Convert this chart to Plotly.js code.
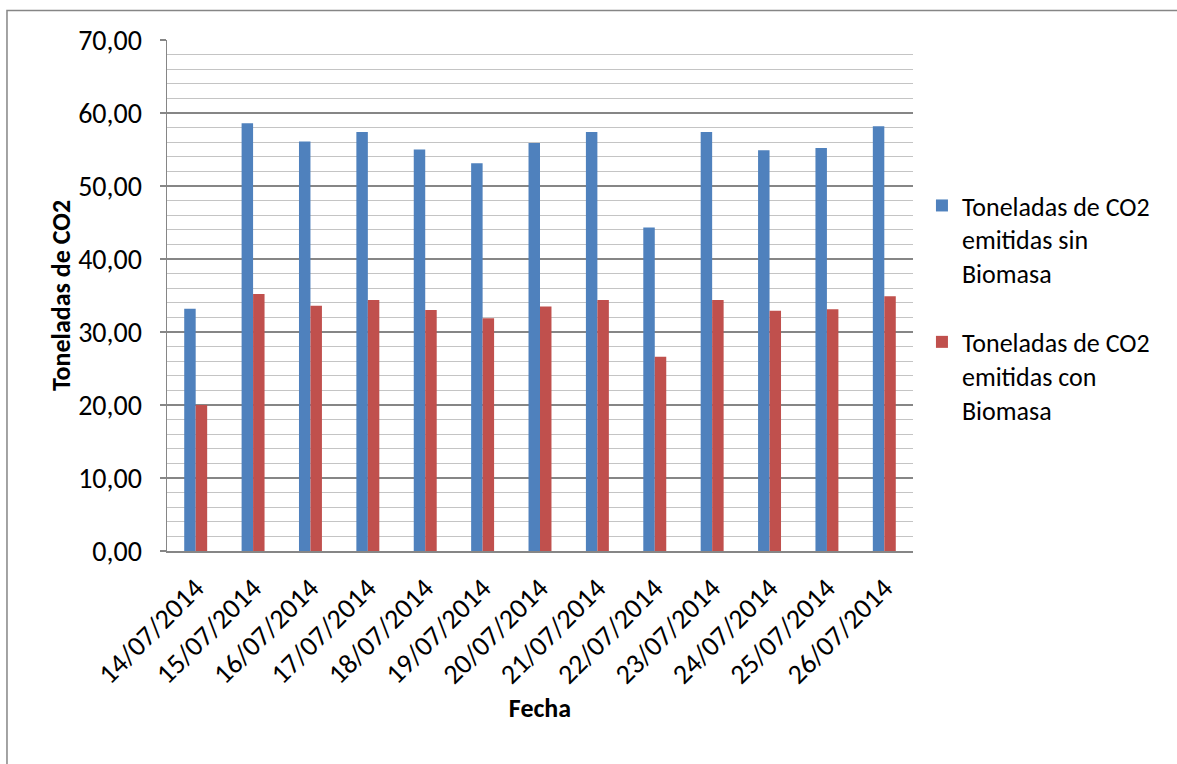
<!DOCTYPE html>
<html>
<head>
<meta charset="utf-8">
<script src="https://cdn.plot.ly/plotly-3.0.1.min.js"></script>
<style>
html,body{margin:0;padding:0;background:#fff;}
#chart{width:1177px;height:764px;}
</style>
</head>
<body>
<div id="chart"></div>
<script>
var fechas = ["14/07/2014","15/07/2014","16/07/2014","17/07/2014","18/07/2014","19/07/2014","20/07/2014","21/07/2014","22/07/2014","23/07/2014","24/07/2014","25/07/2014","26/07/2014"];
var sinBiomasa = [33.2, 58.6, 56.1, 57.4, 55.0, 53.1, 55.9, 57.4, 44.3, 57.4, 54.9, 55.2, 58.2];
var conBiomasa = [20.0, 35.2, 33.6, 34.4, 33.0, 31.9, 33.5, 34.4, 26.6, 34.4, 32.9, 33.1, 34.9];
var nombreSin = "Toneladas de CO2<br>emitidas sin<br>Biomasa";
var nombreCon = "Toneladas de CO2<br>emitidas con<br>Biomasa";

var FONT = "Carlito, Lato, sans-serif";

var traces = [
  {type:"bar", x:fechas, y:sinBiomasa, name:nombreSin, legendgroup:"a",
   marker:{color:"#4F81BD"}},
  {type:"bar", x:fechas, y:conBiomasa, name:nombreCon, legendgroup:"b",
   marker:{color:"#C0504D"}}
];

var layout = {
  width:1177, height:764,
  margin:{l:167, r:264, t:40, b:213},
  paper_bgcolor:"#fff", plot_bgcolor:"#fff",
  font:{family:FONT, color:"#000", size:26},
  barmode:"group", bargap:0.6, bargroupgap:0,
  showlegend:true,
  legend:{x:1.012, y:0.722, xanchor:"left", yanchor:"top",
          font:{family:FONT, size:26, color:"#000"},
          tracegroupgap:32, valign:"top", itemwidth:30},
  xaxis:{type:"category", showgrid:false, showline:true, linecolor:"#868686", linewidth:1.5,
         ticks:"", tickangle:-45, tickfont:{family:FONT, size:28},
         ticklabelstandoff:8,
         title:{text:"<b>Fecha</b>", font:{family:FONT, size:26}, standoff:8}},
  yaxis:{range:[0,70], dtick:10, tick0:0, tickformat:".2f",
         showline:true, linecolor:"#868686", linewidth:1.5,
         showgrid:true, gridcolor:"#868686", gridwidth:1.3,
         ticks:"outside", ticklen:6, tickcolor:"#868686", tickwidth:1.3,
         tickfont:{family:FONT, size:28}, ticklabelstandoff:12, zeroline:false,
         minor:{dtick:2, showgrid:true, gridcolor:"#c4c4c4", gridwidth:1.3, ticks:""},
         title:{text:"<b>Toneladas de CO2</b>", font:{family:FONT, size:26}, standoff:0}},
  separators:",.",
  shapes:[
    {type:"rect", xref:"paper", yref:"paper", x0:-0.2145, x1:1.5, y0:-0.6, y1:1.0577,
     line:{color:"#868686", width:1.5}, fillcolor:"rgba(0,0,0,0)", layer:"below"}
  ]
};

Plotly.newPlot("chart", traces, layout, {displayModeBar:false, staticPlot:true});
</script>
</body>
</html>
